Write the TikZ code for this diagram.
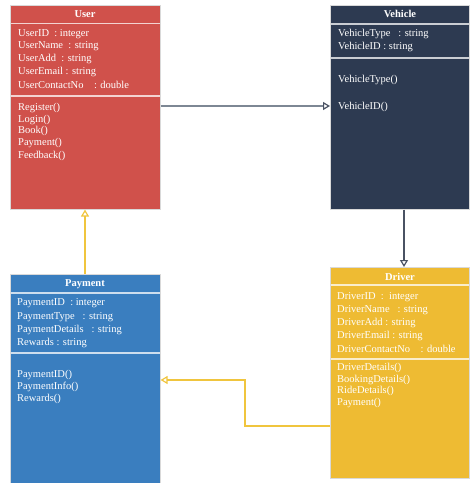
\documentclass[tikz,border=0pt]{standalone}
\usepackage{fontspec}
\setmainfont{Liberation Serif}
\usetikzlibrary{arrows.meta}
\definecolor{userred}{HTML}{D0514B}
\definecolor{vehnavy}{HTML}{2D3A51}
\definecolor{payblue}{HTML}{3A7EBF}
\definecolor{drvyellow}{HTML}{EEBB33}
\definecolor{linkgrey}{HTML}{7D8794}
\definecolor{linkdark}{HTML}{4A5263}
\definecolor{linkyellow}{HTML}{F0C53E}
\tikzset{
  classbox/.style={draw=white!85!black, line width=0.6pt, anchor=north west, inner sep=0pt},
  sepline/.style={draw=white, line width=1.4pt, opacity=0.75},
  ctitle/.style={text=white, font=\fontsize{10.5}{12}\selectfont\bfseries, anchor=center},
  member/.style={text=white, font=\fontsize{10.5}{12}\selectfont, anchor=west, inner sep=0pt},
  link/.style={line width=1.8pt, -{Triangle[open, length=7pt, width=8pt, line width=1.2pt]}}
}
\begin{document}
\begin{tikzpicture}[x=1pt, y=-1pt]
\useasboundingbox (0,0) rectangle (470,483);

% ---- class boxes ----
\node[classbox, fill=userred, minimum width=150pt, minimum height=204pt] (user) at (10,5) {};
\node[classbox, fill=vehnavy, minimum width=139pt, minimum height=204pt] (vehicle) at (330,5) {};
\node[classbox, fill=payblue, minimum width=150pt, minimum height=212pt] (payment) at (10,274) {};
\node[classbox, fill=drvyellow, minimum width=139pt, minimum height=211pt] (driver) at (330,267) {};

% ---- compartment separators ----
\draw[sepline] (10.5,23.5) -- (159.5,23.5);
\draw[sepline] (10.5,96) -- (159.5,96);
\draw[sepline] (330.5,24) -- (468.5,24);
\draw[sepline] (330.5,58) -- (468.5,58);
\draw[sepline] (10.5,293) -- (159.5,293);
\draw[sepline] (10.5,353) -- (159.5,353);
\draw[sepline] (330.5,285) -- (468.5,285);
\draw[sepline] (330.5,359) -- (468.5,359);

% ---- User ----
\node[ctitle] (userT) at (85,14) {User};
\node[member] (u1) at (18,34) {UserID\ \ : integer};
\node[member] (u2) at (18,46.5) {UserName\ \ : string};
\node[member] (u3) at (18,59) {UserAdd\ \ : string};
\node[member] (u4) at (18,72) {UserEmail\ : string};
\node[member] (u5) at (18,85) {UserContactNo\ \ \ \ : double};
\node[member] (u6) at (18,108) {Register()};
\node[member] (u7) at (18,119.5) {Login()};
\node[member] (u8) at (18,131) {Book()};
\node[member] (u9) at (18,143) {Payment()};
\node[member] (u10) at (18,155.5) {Feedback()};

% ---- Vehicle ----
\node[ctitle] (vehT) at (400,14) {Vehicle};
\node[member] (v1) at (338,34) {VehicleType\ \ \ : string};
\node[member] (v2) at (338,47) {VehicleID\ : string};
\node[member] (v3) at (338,80) {VehicleType()};
\node[member] (v4) at (338,107) {VehicleID()};

% ---- Payment ----
\node[ctitle] (payT) at (85,284) {Payment};
\node[member] (p1) at (17,303) {PaymentID\ \ : integer};
\node[member] (p2) at (17,317) {PaymentType\ \ \ : string};
\node[member] (p3) at (17,330) {PaymentDetails\ \ \ : string};
\node[member] (p4) at (17,343) {Rewards\ : string};
\node[member] (p5) at (17,375) {PaymentID()};
\node[member] (p6) at (17,387) {PaymentInfo()};
\node[member] (p7) at (17,399) {Rewards()};

% ---- Driver ----
\node[ctitle] (drvT) at (400,277) {Driver};
\node[member] (d1) at (337,297) {DriverID\ \ : \ integer};
\node[member] (d2) at (337,310) {DriverName\ \ \ : string};
\node[member] (d3) at (337,323) {DriverAdd\ : string};
\node[member] (d4) at (337,335.5) {DriverEmail\ : string};
\node[member] (d5) at (337,349) {DriverContactNo\ \ \ \ : double};
\node[member] (d6) at (337,368) {DriverDetails()};
\node[member] (d7) at (337,379.5) {BookingDetails()};
\node[member] (d8) at (337,391) {RideDetails()};
\node[member] (d9) at (337,402.5) {Payment()};

% ---- relationships ----
\coordinate (uvStart) at (user.east |- 0,106);
\coordinate (uvEnd) at (vehicle.west |- 0,106);
\draw[link, draw=linkgrey, -{Triangle[open, length=7pt, width=8pt, line width=1.2pt, color=linkdark]}] (uvStart) -- (uvEnd);

\coordinate (vdStart) at (vehicle.south -| 404,0);
\coordinate (vdEnd) at (driver.north -| 404,0);
\draw[link, draw=linkdark] (vdStart) -- (vdEnd);

\coordinate (puStart) at (payment.north -| 85,0);
\coordinate (puEnd) at (user.south -| 85,0);
\draw[link, draw=linkyellow] (puStart) -- (puEnd);

\coordinate (dpStart) at (driver.west |- 0,426);
\coordinate (dpBend) at (245,380);
\coordinate (dpEnd) at (payment.east |- 0,380);
\draw[link, draw=linkyellow] (dpStart) -| (dpBend) -- (dpEnd);
\end{tikzpicture}
\end{document}
